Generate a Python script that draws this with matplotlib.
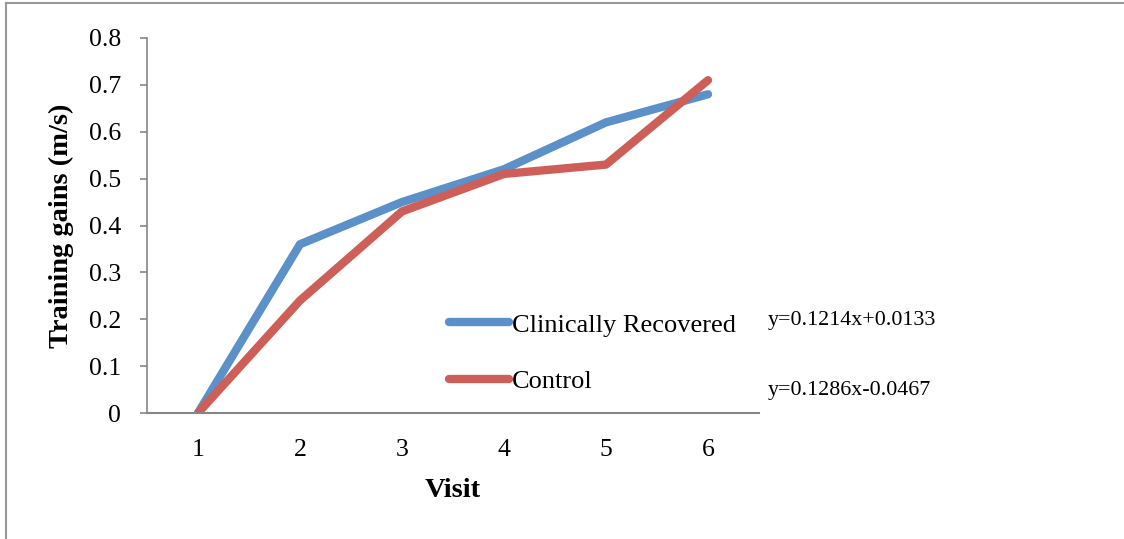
import matplotlib
matplotlib.use("Agg")
import matplotlib.pyplot as plt
from matplotlib.lines import Line2D

# visit numbers and mean training gains per group
visits = [1, 2, 3, 4, 5, 6]
recovered = [0, 0.36, 0.45, 0.52, 0.62, 0.68]
control = [0, 0.24, 0.43, 0.51, 0.53, 0.71]
y_ticks = [0, 0.1, 0.2, 0.3, 0.4, 0.5, 0.6, 0.7, 0.8]
y_tick_labels = ["0", "0.1", "0.2", "0.3", "0.4", "0.5", "0.6", "0.7", "0.8"]
fit_recovered = "y=0.1214x+0.0133"
fit_control = "y=0.1286x-0.0467"

plt.rcParams['font.family'] = ['Liberation Serif', 'DejaVu Serif']

fig = plt.figure(figsize=(11.24, 5.39), dpi=100)
ax = fig.add_axes([147/1124, 1 - 413/539, 612/1124, 375/539])

ax.plot(visits, recovered, color="#5b90c8", lw=6, solid_capstyle="round",
        solid_joinstyle="round", label="Clinically Recovered")
ax.plot(visits, control, color="#cd5f58", lw=6, solid_capstyle="round",
        solid_joinstyle="round", label="Control")

ax.set_xlim(0.5, 6.5)
ax.set_ylim(0, 0.8)
ax.set_yticks(y_ticks)
ax.set_yticklabels(y_tick_labels)
ax.set_xticks(visits)
ax.set_xticklabels([str(v) for v in visits])

gray = "#868686"
for s in ["top", "right"]:
    ax.spines[s].set_visible(False)
ax.spines["left"].set_color(gray)
ax.spines["bottom"].set_color(gray)
ax.spines["left"].set_linewidth(1.2)
ax.spines["bottom"].set_linewidth(1.5)
ax.tick_params(axis="y", length=5, width=1.2, color=gray, pad=13.5, labelsize=18.5)
ax.tick_params(axis="x", length=0, pad=19, labelsize=18.5)

ax.set_ylabel("Training gains (m/s)", fontsize=20.5, fontweight="bold", labelpad=11)
ax.set_xlabel("Visit", fontsize=20.5, fontweight="bold", labelpad=12)

ax.legend(loc="center left", bbox_to_anchor=(0.493, 0.16), frameon=False,
          fontsize=19, handlelength=2.3, handletextpad=0.1, labelspacing=1.25,
          borderpad=0, borderaxespad=0)

fig.text(768/1124, 1 - 320/539, fit_recovered, fontsize=15.8, va="center")
fig.text(768/1124, 1 - 390/539, fit_control, fontsize=15.8, va="center")

# outer frame on the left and top edges
fig.add_artist(Line2D([6/1124, 6/1124], [0, 1 - 3/539], transform=fig.transFigure,
                      color="#999999", lw=1.5))
fig.add_artist(Line2D([6/1124, 1], [1 - 3/539, 1 - 3/539], transform=fig.transFigure,
                      color="#999999", lw=1.5))

fig.savefig("out.png", dpi=100)
